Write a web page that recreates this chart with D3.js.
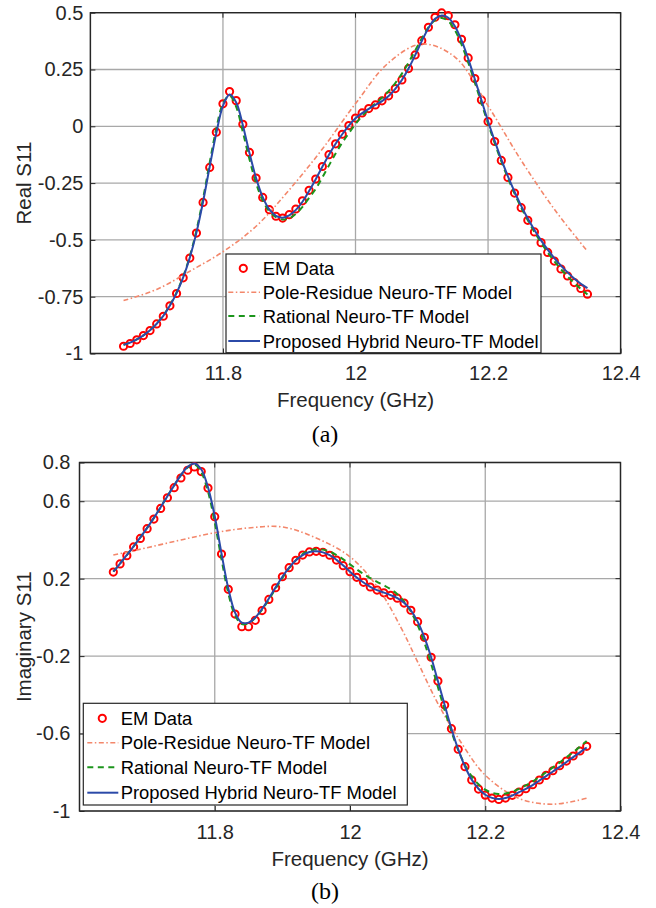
<!DOCTYPE html>
<html><head><meta charset="utf-8">
<script src="https://cdn.jsdelivr.net/npm/d3@7"></script>
<style>body{margin:0;background:#fff}svg{display:block}</style>
</head><body><svg id="c" width="656" height="908"></svg>
<script>
// ---------- data ----------
const freq = [11.65,11.66,11.67,11.68,11.69,11.70,11.71,11.72,11.73,11.74,11.75,11.76,11.77,11.78,11.79,11.80,11.81,11.82,11.83,11.84,11.85,11.86,11.87,11.88,11.89,11.90,11.91,11.92,11.93,11.94,11.95,11.96,11.97,11.98,11.99,12.00,12.01,12.02,12.03,12.04,12.05,12.06,12.07,12.08,12.09,12.10,12.11,12.12,12.13,12.14,12.15,12.16,12.17,12.18,12.19,12.20,12.21,12.22,12.23,12.24,12.25,12.26,12.27,12.28,12.29,12.30,12.31,12.32,12.33,12.34,12.35];

const realEM = [-0.968,-0.956,-0.940,-0.921,-0.899,-0.870,-0.836,-0.790,-0.736,-0.667,-0.580,-0.470,-0.335,-0.181,-0.026,0.099,0.153,0.113,0.009,-0.115,-0.228,-0.313,-0.367,-0.396,-0.404,-0.389,-0.364,-0.328,-0.282,-0.232,-0.177,-0.125,-0.077,-0.035,0.003,0.036,0.059,0.078,0.094,0.112,0.134,0.166,0.204,0.254,0.314,0.377,0.436,0.480,0.499,0.487,0.447,0.383,0.301,0.210,0.116,0.021,-0.067,-0.150,-0.225,-0.294,-0.358,-0.414,-0.465,-0.512,-0.555,-0.593,-0.628,-0.659,-0.688,-0.714,-0.739];
const realHybrid = [-0.962,-0.952,-0.938,-0.920,-0.898,-0.869,-0.834,-0.789,-0.734,-0.665,-0.578,-0.468,-0.332,-0.178,-0.030,0.090,0.140,0.105,0.005,-0.118,-0.228,-0.312,-0.366,-0.394,-0.402,-0.392,-0.368,-0.332,-0.285,-0.233,-0.178,-0.125,-0.077,-0.035,0.003,0.035,0.058,0.077,0.094,0.111,0.133,0.165,0.204,0.254,0.313,0.375,0.432,0.473,0.488,0.478,0.440,0.378,0.298,0.208,0.115,0.022,-0.064,-0.146,-0.220,-0.288,-0.350,-0.406,-0.456,-0.502,-0.543,-0.580,-0.613,-0.643,-0.670,-0.693,-0.712];
const realRational = [-0.962,-0.952,-0.938,-0.920,-0.897,-0.868,-0.833,-0.787,-0.731,-0.661,-0.572,-0.458,-0.318,-0.160,-0.010,0.100,0.135,0.085,-0.025,-0.145,-0.250,-0.327,-0.375,-0.400,-0.410,-0.405,-0.385,-0.355,-0.315,-0.275,-0.225,-0.172,-0.120,-0.072,-0.030,0.010,0.045,0.075,0.100,0.126,0.155,0.190,0.232,0.280,0.333,0.387,0.435,0.467,0.477,0.463,0.423,0.360,0.281,0.193,0.102,0.012,-0.074,-0.154,-0.228,-0.296,-0.358,-0.414,-0.465,-0.512,-0.555,-0.594,-0.629,-0.661,-0.690,-0.716,-0.740];
const realPoleFreq = [11.65,11.70,11.75,11.80,11.85,11.90,11.95,12.00,12.05,12.10,12.15,12.20,12.25,12.30,12.35];
const realPole = [-0.767,-0.718,-0.638,-0.552,-0.440,-0.280,-0.100,0.100,0.280,0.362,0.305,0.090,-0.150,-0.365,-0.550];

const imagEM = [0.234,0.276,0.319,0.364,0.408,0.458,0.508,0.563,0.618,0.670,0.720,0.760,0.777,0.753,0.668,0.520,0.327,0.145,0.017,-0.048,-0.048,-0.015,0.035,0.093,0.153,0.210,0.257,0.295,0.322,0.338,0.341,0.336,0.321,0.296,0.267,0.236,0.207,0.181,0.157,0.141,0.127,0.114,0.099,0.074,0.037,-0.022,-0.103,-0.206,-0.329,-0.453,-0.575,-0.681,-0.771,-0.840,-0.887,-0.918,-0.933,-0.940,-0.933,-0.919,-0.902,-0.885,-0.864,-0.840,-0.816,-0.792,-0.766,-0.742,-0.716,-0.690,-0.666];
const imagHybrid = [0.236,0.278,0.322,0.367,0.413,0.462,0.514,0.569,0.626,0.682,0.735,0.778,0.795,0.765,0.672,0.522,0.330,0.150,0.025,-0.027,-0.027,0.000,0.044,0.098,0.155,0.210,0.257,0.295,0.322,0.338,0.342,0.336,0.321,0.297,0.268,0.236,0.206,0.180,0.158,0.141,0.128,0.115,0.100,0.075,0.037,-0.022,-0.103,-0.206,-0.329,-0.453,-0.575,-0.681,-0.770,-0.838,-0.885,-0.916,-0.932,-0.938,-0.933,-0.920,-0.903,-0.886,-0.866,-0.843,-0.820,-0.796,-0.772,-0.747,-0.722,-0.697,-0.672];
const imagRational = [0.236,0.278,0.322,0.367,0.413,0.462,0.514,0.569,0.626,0.682,0.735,0.775,0.790,0.750,0.650,0.490,0.300,0.125,0.010,-0.035,-0.030,-0.002,0.040,0.092,0.148,0.204,0.254,0.296,0.327,0.345,0.352,0.350,0.340,0.322,0.300,0.274,0.248,0.224,0.203,0.184,0.166,0.146,0.120,0.082,0.030,-0.040,-0.130,-0.240,-0.360,-0.480,-0.590,-0.685,-0.762,-0.820,-0.862,-0.890,-0.906,-0.912,-0.910,-0.900,-0.886,-0.868,-0.848,-0.825,-0.800,-0.775,-0.750,-0.723,-0.696,-0.668,-0.638];
const imagPoleFreq = [11.65,11.70,11.75,11.80,11.85,11.90,11.95,12.00,12.04,12.075,12.10,12.13,12.165,12.20,12.25,12.30,12.35];
const imagPole = [0.322,0.360,0.400,0.437,0.462,0.467,0.410,0.313,0.160,-0.050,-0.230,-0.445,-0.650,-0.815,-0.935,-0.965,-0.934];

const xTicks = [11.8, 12, 12.2, 12.4];
const xGrid = [11.6, 11.8, 12, 12.2, 12.4];
const realTicks = [-1, -0.75, -0.5, -0.25, 0, 0.25, 0.5];
const realTickLabels = ["-1", "-0.75", "-0.5", "-0.25", "0", "0.25", "0.5"];
const imagTicks = [-1, -0.6, -0.2, 0.2, 0.6, 0.8];
const imagTickLabels = ["-1", "-0.6", "-0.2", "0.2", "0.6", "0.8"];
const legendLabels = ["EM Data", "Pole-Residue Neuro-TF Model", "Rational Neuro-TF Model", "Proposed Hybrid Neuro-TF Model"];

// ---------- styles ----------
const C = {em:"#ff0000", pole:"#f3876b", rat:"#1c951c", hyb:"#2b4aa8", axis:"#262626", grid:"#a8a8a8"};
const FONT = "'Liberation Sans', Arial, Helvetica, sans-serif";

const svg = d3.select("#c");

function panel(o) {
  const x = d3.scaleLinear().domain([11.6, 12.4]).range([o.left, o.right]);
  const y = d3.scaleLinear().domain(o.ydom).range([o.bottom, o.top]);
  const g = svg.append("g");
  // grid
  g.append("g").selectAll("line").data(xGrid).join("line")
    .attr("x1", d => x(d)).attr("x2", d => x(d)).attr("y1", o.top).attr("y2", o.bottom)
    .attr("stroke", C.grid).attr("stroke-width", 1.3);
  g.append("g").selectAll("line").data(o.yticks).join("line")
    .attr("x1", o.left).attr("x2", o.right).attr("y1", d => y(d)).attr("y2", d => y(d))
    .attr("stroke", C.grid).attr("stroke-width", 1.3);

  // axes via d3
  const xa = d3.axisBottom(x).tickValues(xTicks).tickFormat(d3.format("")).tickSizeInner(-5).tickSizeOuter(0).tickPadding(o.xpad);
  const gx = g.append("g").attr("transform", `translate(0,${o.bottom})`).call(xa);
  const ya = d3.axisLeft(y).tickValues(o.yticks).tickFormat((d,i) => o.ylabels[i]).tickSizeInner(-5).tickSizeOuter(0).tickPadding(o.ypad);
  const gy = g.append("g").attr("transform", `translate(${o.left},0)`).call(ya);
  [gx, gy].forEach(a => {
    a.select(".domain").remove();
    a.selectAll("line").attr("stroke", C.axis).attr("stroke-width", 1);
    a.selectAll("text").attr("font-family", FONT).attr("font-size", 20).attr("fill", C.axis);
  });
  // top / right mirrored ticks
  g.append("g").selectAll("line").data(xTicks).join("line")
    .attr("x1", d => x(d)).attr("x2", d => x(d)).attr("y1", o.top).attr("y2", o.top + 5)
    .attr("stroke", C.axis);
  g.append("g").selectAll("line").data(o.yticks).join("line")
    .attr("x1", o.right - 5).attr("x2", o.right).attr("y1", d => y(d)).attr("y2", d => y(d))
    .attr("stroke", C.axis);
  // box
  g.append("rect").attr("x", o.left).attr("y", o.top).attr("width", o.right - o.left).attr("height", o.bottom - o.top)
    .attr("fill", "none").attr("stroke", C.axis).attr("stroke-width", 1.4);

  // data
  const clip = "clip" + o.id;
  svg.append("clipPath").attr("id", clip).append("rect")
    .attr("x", o.left).attr("y", o.top - 6).attr("width", o.right - o.left).attr("height", o.bottom - o.top + 6);
  const d = g.append("g").attr("clip-path", `url(#${clip})`);
  d.append("g").selectAll("circle").data(freq).join("circle")
    .attr("cx", f => x(f)).attr("cy", (f, i) => y(o.em[i])).attr("r", 3.6)
    .attr("fill", "none").attr("stroke", C.em).attr("stroke-width", 2);
  const ln = d3.line().curve(d3.curveCatmullRom.alpha(0.5));
  d.append("path").attr("d", ln(o.poleF.map((f, i) => [x(f), y(o.pole[i])])))
    .attr("fill", "none").attr("stroke", C.pole).attr("stroke-width", 1.6).attr("stroke-dasharray", "5,2.5,1.5,2.5");
  d.append("path").attr("d", ln(freq.map((f, i) => [x(f), y(o.rat[i])])))
    .attr("fill", "none").attr("stroke", C.rat).attr("stroke-width", 2).attr("stroke-dasharray", "6,4.5");
  d.append("path").attr("d", ln(freq.map((f, i) => [x(f), y(o.hyb[i])])))
    .attr("fill", "none").attr("stroke", C.hyb).attr("stroke-width", 2);

  // axis titles
  g.append("text").attr("x", (o.left + o.right) / 2).attr("y", o.xtitleY).attr("text-anchor", "middle")
    .attr("font-family", FONT).attr("font-size", 20.5).attr("fill", C.axis).text("Frequency (GHz)");
  g.append("text").attr("transform", `translate(${o.ytitleX},${(o.top + o.bottom) / 2}) rotate(-90)`)
    .attr("text-anchor", "middle").attr("font-family", FONT).attr("font-size", 20.5).attr("fill", C.axis).text(o.ytitle);
  // caption
  g.append("text").attr("x", 325).attr("y", o.capY).attr("text-anchor", "middle")
    .attr("font-family", "'Liberation Serif', 'Times New Roman', serif").attr("font-size", 24).attr("fill", "#000").text(o.cap);

  // legend
  const L = o.leg;
  const lg = g.append("g");
  lg.append("rect").attr("x", L.x0).attr("y", L.y0).attr("width", L.x1 - L.x0).attr("height", L.y1 - L.y0)
    .attr("fill", "#fff").attr("stroke", C.axis).attr("stroke-width", 1.2);
  const items = lg.selectAll("g.it").data(legendLabels).join("g").attr("class", "it")
    .attr("transform", (t, i) => `translate(0,${L.rows[i]})`);
  items.append("text").attr("x", L.tx).attr("y", 6.6).attr("font-family", FONT).attr("font-size", 18.4)
    .attr("fill", "#000").text(t => t);
  const sample = [
    s => s.append("circle").attr("cx", L.mx).attr("cy", 0).attr("r", 3.6).attr("fill", "none").attr("stroke", C.em).attr("stroke-width", 2),
    s => s.append("line").attr("x1", L.lx0).attr("x2", L.lx1).attr("stroke", C.pole).attr("stroke-width", 1.6).attr("stroke-dasharray", "5,2.5,1.5,2.5"),
    s => s.append("line").attr("x1", L.lx0).attr("x2", L.lx1).attr("stroke", C.rat).attr("stroke-width", 2).attr("stroke-dasharray", "6,4.5"),
    s => s.append("line").attr("x1", L.lx0).attr("x2", L.lx1).attr("stroke", C.hyb).attr("stroke-width", 2)
  ];
  items.each(function(t, i) { sample[i](d3.select(this)); });
}

panel({id: "a", left: 90.4, right: 620.6, top: 12.7, bottom: 353.5, ydom: [-1, 0.5],
  yticks: realTicks, ylabels: realTickLabels, ypad: 7, xpad: 12.5,
  em: realEM, hyb: realHybrid, rat: realRational, poleF: realPoleFreq, pole: realPole,
  xtitleY: 407, ytitleX: 31, ytitle: "Real S11", cap: "(a)", capY: 441.5,
  leg: {x0: 226, x1: 541, y0: 254, y1: 352.7, rows: [268.3, 292.3, 316, 341], mx: 243.3, lx0: 228.3, lx1: 260, tx: 262.7}});

panel({id: "b", left: 79.5, right: 620.5, top: 462.5, bottom: 811, ydom: [-1, 0.8],
  yticks: imagTicks, ylabels: imagTickLabels, ypad: 9, xpad: 14,
  em: imagEM, hyb: imagHybrid, rat: imagRational, poleF: imagPoleFreq, pole: imagPole,
  xtitleY: 866, ytitleX: 31, ytitle: "Imaginary S11", cap: "(b)", capY: 899,
  leg: {x0: 83.3, x1: 407.3, y0: 703.3, y1: 805, rows: [718.3, 742.7, 767.3, 792.7], mx: 102.3, lx0: 87.3, lx1: 118.3, tx: 120.7}});
</script></body></html>
